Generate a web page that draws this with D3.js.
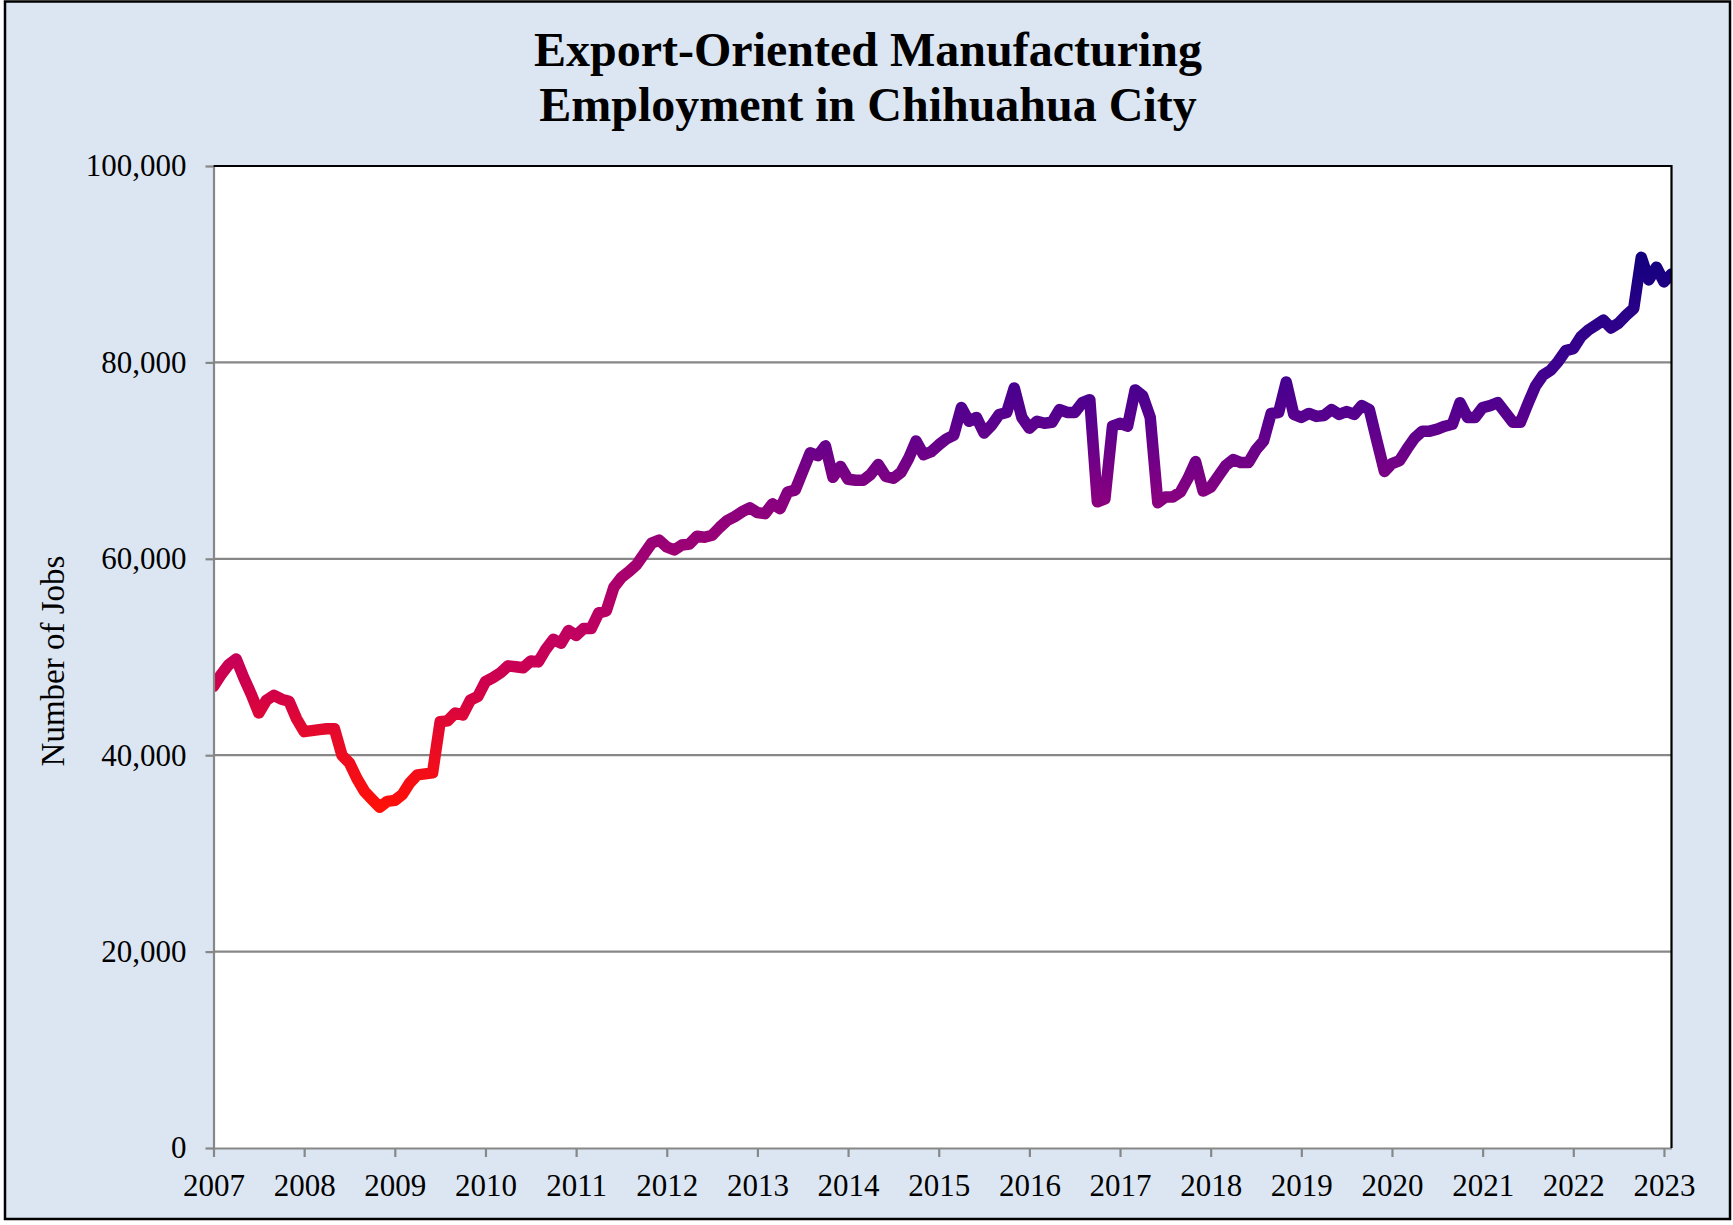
<!DOCTYPE html>
<html>
<head>
<meta charset="utf-8">
<script src="https://cdn.jsdelivr.net/npm/d3@7"></script>
<style>
  html, body { margin: 0; padding: 0; background: #ffffff; }
  svg { display: block; }
  text { font-family: "Liberation Serif", "Times New Roman", serif; fill: #000; }
</style>
</head>
<body>
<svg id="chart" width="1733" height="1225"></svg>
<script>
// Monthly export-oriented manufacturing jobs, Jan 2007 – Feb 2023
const firstYear = 2007;
const jobs = [
  47000, 48200, 49200, 49800, 47900, 46200, 44300, 45600, 46100, 45700, 45500, 43700,
  42400, 42500, 42600, 42700, 42700, 40000, 39200, 37600, 36300, 35500, 34700, 35300,
  35400, 36000, 37200, 38000, 38100, 38200, 43400, 43500, 44300, 44100, 45600, 46000,
  47500, 47900, 48400, 49100, 49000, 48900, 49600, 49500, 50800, 51800, 51400, 52700,
  52200, 52900, 52900, 54500, 54700, 57100, 58100, 58700, 59400, 60500, 61600, 61900,
  61200, 60900, 61400, 61500, 62300, 62200, 62400, 63200, 63900, 64300, 64800, 65200,
  64700, 64600, 65600, 65100, 66800, 67000, 68900, 70800, 70500, 71500, 68300, 69400,
  68100, 68000, 68000, 68600, 69600, 68400, 68200, 68800, 70200, 72000, 70600, 70900,
  71600, 72200, 72600, 75400, 74000, 74400, 72800, 73600, 74700, 74900, 77400, 74400,
  73300, 74000, 73800, 73900, 75200, 74900, 74900, 75900, 76200, 65800, 66100, 73500,
  73800, 73500, 77200, 76600, 74400, 65700, 66300, 66300, 66800, 68200, 69900, 66900,
  67300, 68400, 69500, 70100, 69800, 69800, 71100, 72000, 74800, 74900, 78000, 74700,
  74400, 74800, 74500, 74600, 75200, 74700, 75000, 74700, 75600, 75200, 72000, 68900,
  69700, 70000, 71200, 72300, 73000, 73000, 73200, 73500, 73700, 75900, 74400, 74400,
  75400, 75600, 75900, 74900, 73900, 73900, 75800, 77600, 78700, 79200, 80100, 81200,
  81400, 82600, 83300, 83800, 84300, 83500, 84000, 84800, 85500, 90700, 88400, 89700,
  88200, 89000
];
const yearLabels = ["2007","2008","2009","2010","2011","2012","2013","2014","2015",
                    "2016","2017","2018","2019","2020","2021","2022","2023"];
const yTickValues = [0, 20000, 40000, 60000, 80000, 100000];
const titleLines = ["Export-Oriented Manufacturing", "Employment in Chihuahua City"];
const yAxisTitle = "Number of Jobs";

// Colour ramp of the line, keyed by job count (low = red, high = navy)
const rampValues = [34700, 42000, 47000, 52000, 60000, 66000, 74000, 80000, 90700];
const rampColors = ["#ff1008", "#e60a2a", "#cf004c", "#c2005e", "#a10072",
                    "#88007f", "#5a008e", "#3c008f", "#14007e"];

const W = 1733, H = 1225;
const plot = { left: 213.5, right: 1671.5, top: 166, bottom: 1148 };

const svg = d3.select("#chart");

// chart background and frame
svg.append("rect").attr("x", 0).attr("y", 0).attr("width", W).attr("height", H).attr("fill", "#ffffff");
svg.append("rect")
  .attr("x", 5).attr("y", 1.5).attr("width", 1725).attr("height", 1217.5)
  .attr("fill", "#dce6f2").attr("stroke", "#000").attr("stroke-width", 2.5);

// title
const title = svg.append("text")
  .attr("text-anchor", "middle")
  .attr("font-weight", "bold")
  .attr("font-size", 48);
titleLines.forEach((t, i) => {
  title.append("tspan").attr("x", 868).attr("y", 66 + i * 55).text(t);
});

// scales
const x = d3.scaleLinear().domain([0, jobs.length - 1]).range([plot.left, plot.right]);
const y = d3.scaleLinear().domain([0, 100000]).range([plot.bottom, plot.top]);

// plot area
svg.append("rect")
  .attr("x", plot.left).attr("y", plot.top)
  .attr("width", plot.right - plot.left).attr("height", plot.bottom - plot.top)
  .attr("fill", "#ffffff");

// horizontal gridlines
svg.append("g")
  .selectAll("line")
  .data(yTickValues.filter(v => v > 0 && v < 100000))
  .join("line")
  .attr("x1", plot.left).attr("x2", plot.right)
  .attr("y1", d => y(d)).attr("y2", d => y(d))
  .attr("stroke", "#878787").attr("stroke-width", 2.2);

// gradient for the series line
const defs = svg.append("defs");
const grad = defs.append("linearGradient")
  .attr("id", "jobsGradient")
  .attr("gradientUnits", "userSpaceOnUse")
  .attr("x1", 0).attr("x2", 0)
  .attr("y1", y(rampValues[0])).attr("y2", y(rampValues[rampValues.length - 1]));
const span = rampValues[rampValues.length - 1] - rampValues[0];
rampValues.forEach((v, i) => {
  grad.append("stop")
    .attr("offset", (v - rampValues[0]) / span)
    .attr("stop-color", rampColors[i]);
});

defs.append("clipPath").attr("id", "plotClip")
  .append("rect")
  .attr("x", plot.left).attr("y", plot.top)
  .attr("width", plot.right - plot.left).attr("height", plot.bottom - plot.top);

const line = d3.line()
  .x((d, i) => x(i))
  .y(d => y(d));

svg.append("path")
  .datum(jobs)
  .attr("clip-path", "url(#plotClip)")
  .attr("d", line)
  .attr("fill", "none")
  .attr("stroke", "url(#jobsGradient)")
  .attr("stroke-width", 11.5)
  .attr("stroke-linejoin", "round")
  .attr("stroke-linecap", "round");

// y axis
const yAxis = d3.axisLeft(y)
  .tickValues(yTickValues)
  .tickFormat(d3.format(","))
  .tickSizeInner(8)
  .tickSizeOuter(0)
  .tickPadding(19);
const gy = svg.append("g")
  .attr("transform", `translate(${plot.left},0)`)
  .call(yAxis);
gy.select(".domain").attr("stroke", "#878787").attr("stroke-width", 2.2);
gy.selectAll(".tick line").attr("stroke", "#878787").attr("stroke-width", 2.2);
gy.selectAll(".tick text")
  .attr("font-size", 31)
  .attr("font-family", "Liberation Serif, Times New Roman, serif")
  .attr("fill", "#000");

// x axis: a tick at each January
const xAxis = d3.axisBottom(x)
  .tickValues(yearLabels.map((d, i) => i * 12))
  .tickFormat((d, i) => yearLabels[i])
  .tickSizeInner(9)
  .tickSizeOuter(0)
  .tickPadding(17);
const gx = svg.append("g")
  .attr("transform", `translate(0,${plot.bottom})`)
  .call(xAxis);
gx.select(".domain").attr("stroke", "#878787").attr("stroke-width", 2.2);
gx.selectAll(".tick line").attr("stroke", "#878787").attr("stroke-width", 2.2);
gx.selectAll(".tick text")
  .attr("font-size", 31)
  .attr("font-family", "Liberation Serif, Times New Roman, serif")
  .attr("fill", "#000");

// plot border on top and right
svg.append("path")
  .attr("d", `M${plot.left},${plot.top}H${plot.right}V${plot.bottom}`)
  .attr("fill", "none").attr("stroke", "#000").attr("stroke-width", 2.2);

// y axis title
svg.append("text")
  .attr("transform", `translate(64,661) rotate(-90)`)
  .attr("text-anchor", "middle")
  .attr("font-size", 33)
  .text(yAxisTitle);
</script>
</body>
</html>
